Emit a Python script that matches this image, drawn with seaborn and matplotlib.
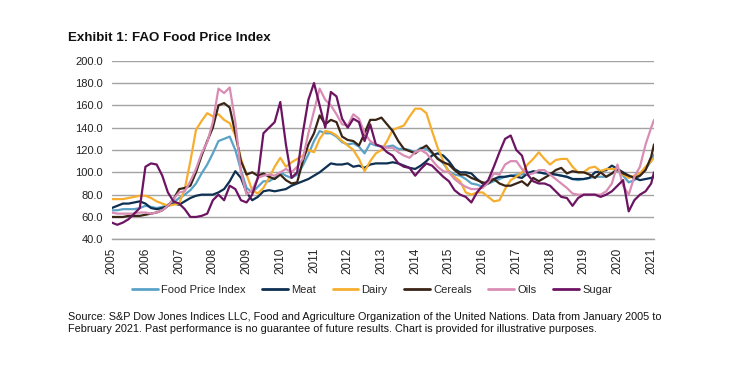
import numpy as np
import pandas as pd
import matplotlib
matplotlib.use("Agg")
import matplotlib.pyplot as plt
import seaborn as sns

# Bimonthly readings (Jan 2005, Mar 2005, ..., Jan 2021) plus Feb 2021
food_price_index = [
    66, 66, 67, 67, 67, 68,
    70, 69, 68, 69, 71, 73,
    77, 80, 84, 90, 99, 107,
    117, 128, 130, 132, 120, 102,
    86, 82, 87, 92, 92, 95,
    100, 97, 95, 98, 106, 116,
    128, 137, 135, 135, 132, 127,
    125, 126, 123, 117, 126, 124,
    123, 123, 124, 121, 121, 120,
    118, 122, 121, 117, 113, 108,
    101, 98, 97, 94, 90, 89,
    87, 90, 92, 94, 96, 97,
    98, 98, 100, 100, 100, 99,
    98, 98, 97, 96, 94, 93,
    94, 95, 96, 96, 96, 99,
    102, 97, 91, 93, 97, 103,
    110, 116,
]
meat = [
    68, 70, 72, 72, 73, 74,
    72, 68, 67, 68, 70, 72,
    71, 74, 77, 79, 80, 80,
    80, 82, 85, 92, 101, 95,
    82, 75, 78, 83, 84, 83,
    84, 85, 88, 90, 92, 94,
    97, 100, 104, 108, 107, 107,
    108, 105, 106, 104, 107, 108,
    108, 108, 109, 108, 106, 104,
    103, 106, 110, 115, 117, 115,
    110, 103, 100, 100, 99, 94,
    90, 91, 94, 96, 96, 97,
    96, 95, 99, 101, 100, 99,
    99, 98, 97, 96, 94, 94,
    94, 95, 100, 101, 102, 106,
    103, 100, 97, 95, 93, 94,
    95, 96,
]
dairy = [
    76, 76, 76, 77, 78, 79,
    79, 77, 74, 72, 70, 71,
    72, 85, 110, 138, 146, 153,
    150, 152, 147, 144, 133, 112,
    98, 84, 81, 86, 95, 105,
    113, 105, 109, 112, 115, 120,
    118, 130, 137, 136, 133, 128,
    124, 120, 112, 101, 110, 117,
    120, 128, 138, 140, 142, 150,
    157, 157, 153, 137, 122, 110,
    100, 96, 92, 82, 80, 82,
    82, 78, 74, 75, 85, 93,
    96, 100, 107, 112, 118, 112,
    107, 111, 112, 112, 105, 100,
    100, 104, 105, 101, 103, 103,
    103, 98, 95, 97, 99, 105,
    110, 113,
]
cereals = [
    60, 60, 60, 61, 61, 61,
    62, 63, 64, 66, 70, 76,
    85, 86, 88, 100, 115, 128,
    140, 160, 162, 158, 135, 110,
    98, 100, 97, 99, 96, 94,
    98, 93, 90, 91, 110, 125,
    135, 151, 143, 147, 145, 132,
    129, 128, 124, 135, 147, 147,
    149, 143, 137, 128, 121, 119,
    117, 121, 124, 118, 112, 109,
    107, 102, 98, 98, 95, 93,
    91, 90, 94, 90, 88, 88,
    90, 92, 88, 95, 92, 95,
    98, 102, 104, 99, 101, 100,
    100, 98, 95, 100, 96, 99,
    103, 99, 97, 95, 97, 102,
    114, 125,
]
oils = [
    64, 63, 63, 63, 63, 64,
    64, 63, 64, 66, 70, 76,
    82, 83, 92, 103, 117, 127,
    145, 175, 171, 176, 145, 100,
    80, 84, 95, 97, 98, 97,
    100, 103, 100, 105, 112, 135,
    155, 175, 165, 160, 152, 143,
    142, 152, 148, 135, 128, 125,
    123, 122, 122, 118, 115, 113,
    118, 120, 117, 111, 105, 101,
    100, 94, 90, 87, 85, 85,
    86, 91, 99, 98, 107, 110,
    110, 103, 98, 99, 102, 102,
    98, 94, 90, 86, 81, 80,
    80, 80, 80, 80, 83, 90,
    107, 88, 80, 96, 105, 125,
    140, 147,
]
sugar = [
    55, 53, 55, 58, 63, 68,
    105, 108, 107, 97, 82, 74,
    72, 67, 60, 60, 61, 63,
    75, 80, 75, 88, 85, 75,
    73, 80, 95, 135, 140, 145,
    163, 125, 95, 100, 135, 165,
    180, 160, 140, 172, 168, 148,
    140, 148, 145, 128, 143, 125,
    123, 118, 115, 108, 105, 104,
    97, 103, 108, 106, 101, 96,
    92, 84, 80, 78, 73, 82,
    88, 93, 105, 118, 130, 133,
    120, 115, 98, 92, 90, 90,
    88, 83, 78, 77, 70, 77,
    80, 80, 80, 78, 80, 83,
    88, 93, 65, 75, 80, 83,
    90, 100,
]

series_names = ["Food Price Index", "Meat", "Dairy", "Cereals", "Oils", "Sugar"]
series_values = [food_price_index, meat, dairy, cereals, oils, sugar]
colors = ["#5BA2C8", "#0C2F52", "#F7AE2E", "#3A2416", "#DA8DB4", "#6C1462"]
year_ticks = list(range(2005, 2022))
ytick_vals = [40, 60, 80, 100, 120, 140, 160, 180, 200]

dates = list(pd.date_range("2005-01-01", periods=97, freq="2MS")) + [pd.Timestamp("2021-02-01")]
t = np.array([d.year + (d.month - 1) / 12 for d in dates])

frames = []
for name, vals in zip(series_names, series_values):
    frames.append(pd.DataFrame({"t": t, "value": vals, "series": name}))
df = pd.concat(frames, ignore_index=True)

sns.set_style("white")
plt.rcParams["font.family"] = ["Liberation Sans", "DejaVu Sans"]

fig = plt.figure(figsize=(7.40, 3.79), dpi=100)
ax = fig.add_axes([111.7 / 740, 1 - 239.3 / 379, (654 - 111.7) / 740, (239.3 - 60.7) / 379])

sns.lineplot(data=df, x="t", y="value", hue="series", hue_order=series_names,
             palette=colors, linewidth=1.6, ax=ax, legend=False)

ax.set_xlim(2005, t[-1])
ax.set_ylim(40, 200)
ax.set_yticks(ytick_vals)
ax.set_yticklabels([f"{v:.1f}" for v in ytick_vals], fontsize=8, color="#222222")
ax.set_xticks(year_ticks)
ax.set_xticklabels([str(y) for y in year_ticks], rotation=90, fontsize=8.5, color="#222222")
ax.set_xlabel("")
ax.set_ylabel("")
ax.grid(axis="y", color="#A3A3A3", linewidth=1.0)
ax.set_axisbelow(True)
for s in ["left", "right", "top"]:
    ax.spines[s].set_visible(False)
ax.spines["bottom"].set_color("#A3A3A3")
ax.spines["bottom"].set_linewidth(1.0)
ax.tick_params(axis="x", direction="out", length=4, color="#A3A3A3", width=1, pad=2)
ax.tick_params(axis="y", length=0, pad=6.5)

fig.text(68 / 740, 1 - 38 / 379, "Exhibit 1: FAO Food Price Index", fontsize=9.6,
         fontweight="bold", ha="left", va="center", color="#111111")

handles = [plt.Line2D([], [], color=c, linewidth=2) for c in colors]
fig.legend(handles, series_names, loc="center", bbox_to_anchor=(372 / 740, 1 - 290 / 379),
           ncol=6, frameon=False, fontsize=8, handlelength=2.3, handletextpad=0.3,
           columnspacing=1.5)

fig.text(68 / 740, 1 - 312 / 379,
         "Source: S&P Dow Jones Indices LLC, Food and Agriculture Organization of the United Nations. Data from January 2005 to\n"
         "February 2021. Past performance is no guarantee of future results. Chart is provided for illustrative purposes.",
         fontsize=7.8, ha="left", va="top", color="#111111", linespacing=1.25)

fig.savefig("out.png", dpi=100)
